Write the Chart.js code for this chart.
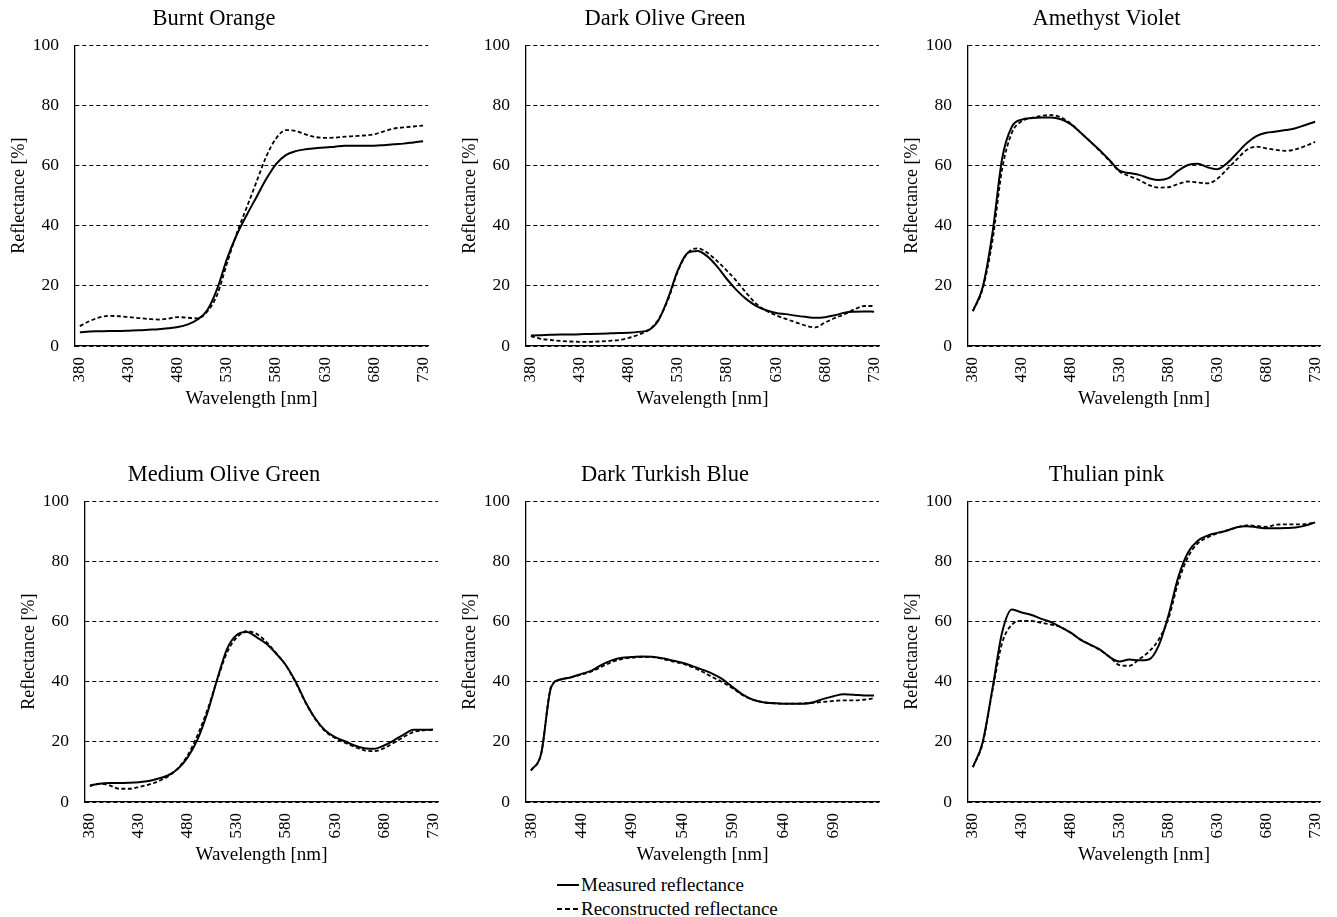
<!DOCTYPE html>
<html>
<head>
<meta charset="utf-8">
<script src="https://cdn.jsdelivr.net/npm/chart.js@4.4.1/dist/chart.umd.min.js"></script>
<style>
html,body{margin:0;padding:0;background:#fff;}
body{width:1337px;height:917px;position:relative;overflow:hidden;font-family:'Liberation Serif','Times New Roman',serif;}
canvas{position:absolute;}
.legend{position:absolute;left:557px;top:873px;font-size:19px;color:#000;line-height:24px;}
.item{display:flex;align-items:center;height:24px;}
.sw{display:inline-block;width:22px;height:2px;margin-right:2px;}
.solid{background:#000;}
.dash{background:repeating-linear-gradient(90deg,#000 0 5px,transparent 5px 8px);}
</style>
</head>
<body>
<canvas id="c1" width="443" height="410" style="left:0px;top:0px"></canvas>
<canvas id="c2" width="443" height="410" style="left:451px;top:0px"></canvas>
<canvas id="c3" width="442" height="410" style="left:893px;top:0px"></canvas>
<canvas id="c4" width="443" height="410" style="left:10px;top:456px"></canvas>
<canvas id="c5" width="443" height="410" style="left:451px;top:456px"></canvas>
<canvas id="c6" width="442" height="410" style="left:893px;top:456px"></canvas>
<div class="legend">
  <div class="item"><span class="sw solid"></span>Measured reflectance</div>
  <div class="item"><span class="sw dash"></span>Reconstructed reflectance</div>
</div>
<script>
// Wavelength categories (nm)
const wavelengths = [380,390,400,410,420,430,440,450,460,470,480,490,500,510,520,530,540,550,560,570,580,590,600,610,620,630,640,650,660,670,680,690,700,710,720,730];
const wavelengthsTurkish = [380,400,410,420,430,440,450,460,470,480,490,500,510,520,530,540,550,560,570,580,590,600,610,620,630,640,650,660,670,680,690,700,710,720,730];

const yTicks = [0,20,40,60,80,100];

// Burnt Orange
const burntOrangeMeasured = [4.6,4.8,4.9,5.0,5.0,5.1,5.2,5.4,5.6,5.9,6.3,7.2,8.8,12.0,19.0,29.0,37.0,43.5,49.5,55.5,60.5,63.5,64.8,65.4,65.8,66.0,66.3,66.6,66.6,66.6,66.6,66.8,67.1,67.3,67.7,68.1];
const burntOrangeReconstructed = [6.6,8.3,9.5,10.0,9.9,9.6,9.3,9.0,8.8,9.1,9.6,9.4,9.2,11.5,17.0,27.5,37.5,46.0,54.5,63.0,69.0,71.8,71.5,70.4,69.5,69.2,69.3,69.6,69.8,70.0,70.4,71.4,72.3,72.7,73.0,73.3];

// Dark Olive Green
const darkOliveMeasured = [3.5,3.6,3.7,3.8,3.8,3.9,4.0,4.1,4.2,4.3,4.4,4.7,5.3,8.5,16.0,25.3,31.0,31.6,29.8,26.4,22.2,18.5,15.5,13.3,11.9,11.0,10.6,10.1,9.7,9.4,9.6,10.2,11.1,11.4,11.5,11.4];
const darkOliveReconstructed = [3.3,2.4,2.0,1.7,1.5,1.4,1.4,1.5,1.7,2.0,2.7,3.8,5.3,8.8,15.5,25.0,31.0,32.5,31.0,28.2,25.0,21.5,17.5,14.0,11.7,10.2,9.0,7.9,6.8,6.2,7.8,9.3,10.6,12.2,13.3,13.3];

// Amethyst Violet
const amethystMeasured = [11.6,19.5,37.5,62.5,73.0,75.3,75.8,76.0,76.0,75.4,73.8,71.0,68.0,65.0,61.7,58.3,57.5,56.9,55.8,55.2,55.8,58.3,60.2,60.6,59.4,58.8,60.8,64.1,67.4,69.8,70.9,71.3,71.8,72.4,73.5,74.6];
const amethystReconstructed = [11.6,19.0,35.0,59.0,71.0,74.8,75.8,76.5,76.8,76.0,74.0,71.0,68.0,64.8,61.5,58.0,56.5,55.2,53.5,52.7,52.8,53.9,54.7,54.4,54.1,55.6,58.8,62.1,65.2,66.3,65.7,65.2,64.9,65.4,66.5,67.9];

// Medium Olive Green
const mediumOliveMeasured = [5.5,6.1,6.3,6.3,6.4,6.6,7.0,7.8,8.9,11.1,15.0,21.0,29.9,41.0,51.0,55.6,56.5,54.8,52.6,49.3,45.4,39.9,33.2,27.7,23.8,21.6,20.2,18.8,17.9,17.7,18.8,20.5,22.4,24.0,24.0,24.1];
const mediumOliveReconstructed = [5.3,6.1,5.5,4.4,4.4,5.0,5.8,6.9,8.6,11.3,15.7,22.4,30.8,40.8,49.8,54.8,56.8,55.9,53.2,49.5,45.4,39.6,33.0,27.5,23.5,21.3,19.7,18.3,17.2,16.9,17.9,19.7,21.6,23.3,23.8,24.0];

// Dark Turkish Blue
const darkTurkishMeasured = [10.5,16.0,38.2,40.8,41.5,42.6,43.7,45.6,47.1,48.0,48.2,48.4,48.3,47.8,47.1,46.3,45.2,44.0,42.6,40.8,38.2,35.7,34.0,33.2,32.9,32.7,32.7,32.7,33.2,34.3,35.2,35.8,35.7,35.4,35.4];
const darkTurkishReconstructed = [10.5,16.0,38.5,40.8,41.5,42.4,43.4,45.0,46.5,47.5,48.0,48.2,48.2,47.6,46.8,46.0,44.8,43.3,41.5,39.8,37.8,35.5,34.0,33.2,32.8,32.7,32.7,32.8,33.0,33.3,33.6,33.8,33.8,34.0,34.5];

// Thulian pink
const thulianMeasured = [11.6,19.9,37.7,56.5,64.0,63.0,62.2,60.9,59.8,58.1,56.3,54.0,52.3,50.7,48.2,46.7,47.4,47.1,47.4,52.0,62.0,74.7,83.0,86.9,88.6,89.5,90.3,91.4,91.7,91.4,91.0,91.0,91.1,91.3,91.9,93.0];
const thulianReconstructed = [11.6,19.5,37.0,53.0,59.0,60.2,60.2,59.6,59.0,58.2,56.3,54.0,52.3,50.5,48.2,45.5,45.3,47.5,50.0,54.0,61.0,73.0,81.5,86.0,88.0,89.3,90.3,91.3,92.0,91.8,91.5,92.2,92.3,92.3,92.4,93.0];

const FONT = "'Liberation Serif', 'Times New Roman', serif";

function makeChart(id, title, labels, measured, reconstructed) {
  new Chart(document.getElementById(id), {
    type: 'line',
    data: {
      labels: labels,
      datasets: [
        {label: 'Measured reflectance', data: measured, borderColor: '#000', borderWidth: 2,
         pointRadius: 0, cubicInterpolationMode: 'monotone', fill: false},
        {label: 'Reconstructed reflectance', data: reconstructed, borderColor: '#000', borderWidth: 1.8,
         borderDash: [4, 2.5], pointRadius: 0, cubicInterpolationMode: 'monotone', fill: false}
      ]
    },
    options: {
      responsive: false,
      animation: false,
      devicePixelRatio: 1,
      events: [],
      layout: {padding: {left: 0, right: 15, top: 0, bottom: 0}},
      plugins: {
        legend: {display: false},
        tooltip: {enabled: false},
        title: {display: true, text: title, color: '#000',
                font: {family: FONT, size: 22.5, weight: 'normal'},
                padding: {top: 6, bottom: 12.3}}
      },
      scales: {
        x: {
          type: 'category',
          offset: true,
          grid: {display: true, drawOnChartArea: false, drawTicks: false},
          border: {display: true, color: '#000', width: 1.3},
          ticks: {autoSkip: false, maxRotation: 90, minRotation: 90, padding: 11, color: '#000',
                  font: {family: FONT, size: 17},
                  callback: function(v, i) { return i % 5 === 0 ? String(labels[i]) : ''; }},
          title: {display: true, text: 'Wavelength [nm]', color: '#000',
                  font: {family: FONT, size: 19}, padding: {top: 0, bottom: 0}},
          afterFit: function(s) { s.height = 64; s.paddingLeft = 0; s.paddingRight = 0; }
        },
        y: {
          min: yTicks[0], max: yTicks[yTicks.length - 1],
          afterBuildTicks: function(s) { s.ticks = yTicks.map(v => ({value: v})); },
          ticks: {padding: 16, color: '#000', font: {family: FONT, size: 17.5}},
          grid: {color: '#000', lineWidth: 1, drawTicks: false},
          border: {display: true, color: '#000', width: 1.3, dash: [4, 3]},
          title: {display: true, text: 'Reflectance [%]', color: '#000',
                  font: {family: FONT, size: 18}, padding: {top: 8, bottom: 0}},
          afterFit: function(s) { s.width = 75; }
        }
      }
    }
  });
}

makeChart('c1', 'Burnt Orange', wavelengths, burntOrangeMeasured, burntOrangeReconstructed);
makeChart('c2', 'Dark Olive Green', wavelengths, darkOliveMeasured, darkOliveReconstructed);
makeChart('c3', 'Amethyst Violet', wavelengths, amethystMeasured, amethystReconstructed);
makeChart('c4', 'Medium Olive Green', wavelengths, mediumOliveMeasured, mediumOliveReconstructed);
makeChart('c5', 'Dark Turkish Blue', wavelengthsTurkish, darkTurkishMeasured, darkTurkishReconstructed);
makeChart('c6', 'Thulian pink', wavelengths, thulianMeasured, thulianReconstructed);
</script>
</body>
</html>
